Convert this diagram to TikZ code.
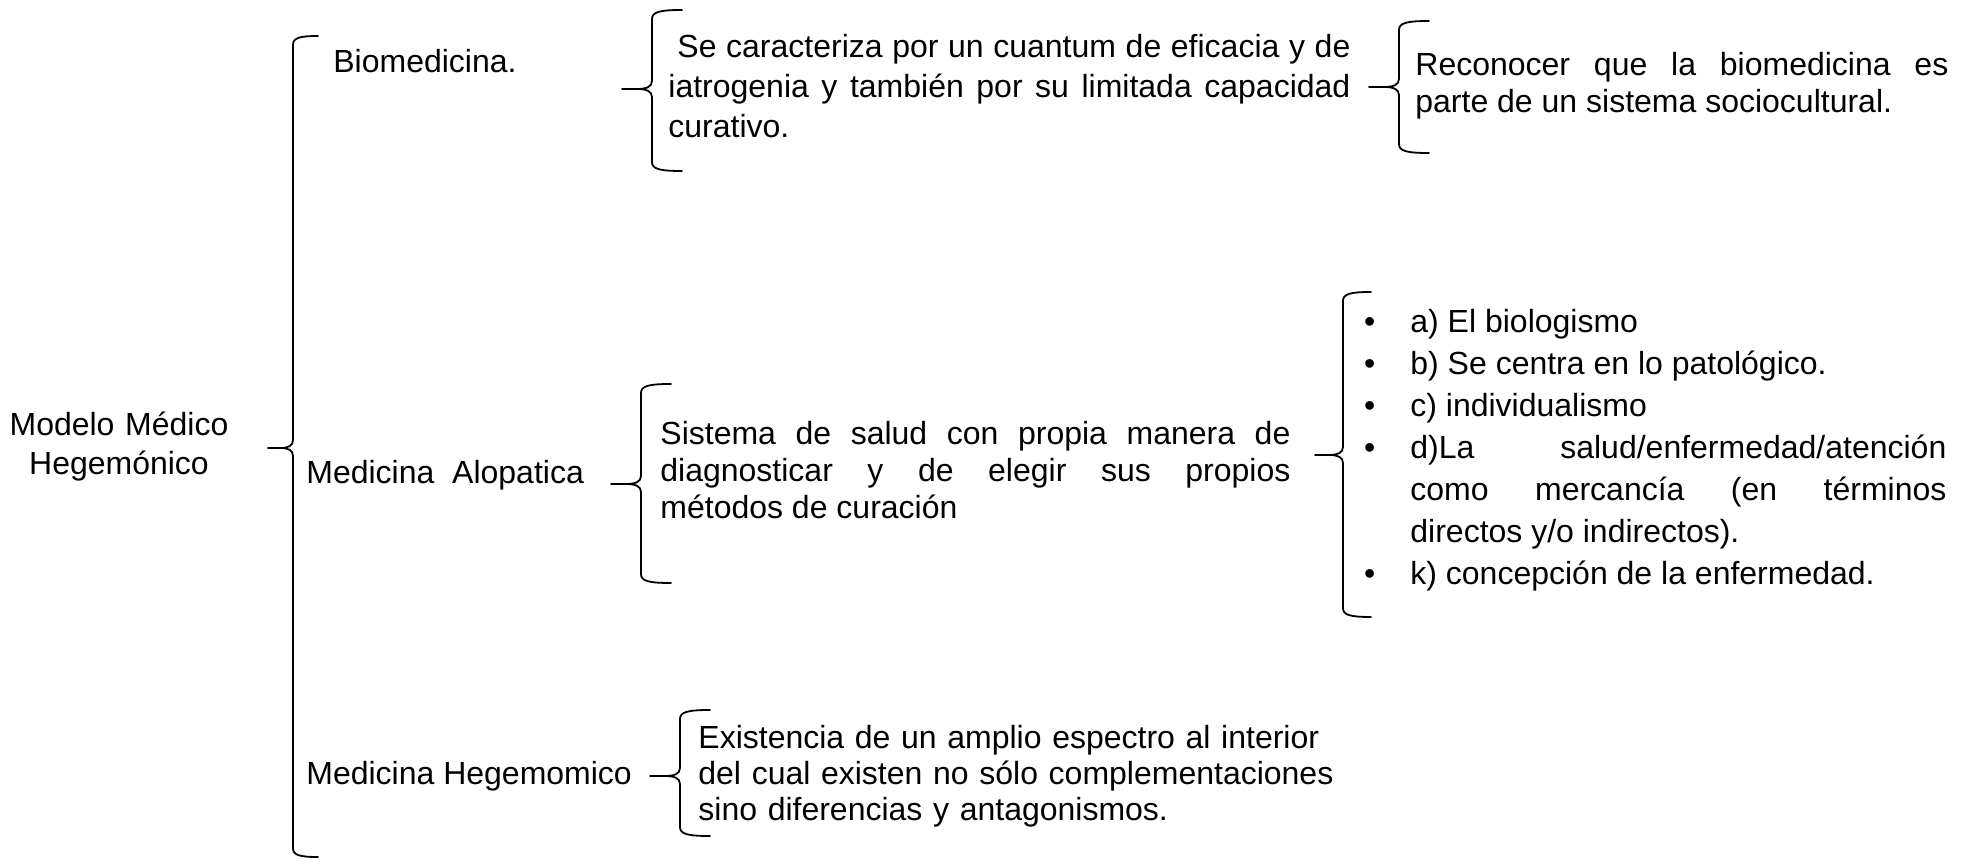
\documentclass[tikz,border=0pt]{standalone}
\usepackage{fontspec}
\setmainfont{Liberation Sans}
\hyphenpenalty=10000
\exhyphenpenalty=10000
\tolerance=9999

\tikzset{
  txt/.style={font=\fontsize{16}{18.5}\selectfont, inner sep=0pt, anchor=base west},
  llavestyle/.style={line width=0.9pt, line cap=round}
}

% llave (brace) opening to the right: [arm]{x}{top}{bottom}{tip y}
\newcommand{\llave}[5][30]{%
  \draw[llavestyle] ({#2+#1},#3) .. controls ({#2+0.25*#1},#3) and (#2,{#3+2}) .. (#2,{#3+9})
    -- (#2,{#5-8}) .. controls (#2,{#5-2}) and ({#2-0.2*#1},#5) .. ({#2-0.5*#1},#5) -- ({#2-#1},#5);
  \draw[llavestyle] ({#2-0.5*#1},#5) .. controls ({#2-0.2*#1},#5) and (#2,{#5+2}) .. (#2,{#5+8})
    -- (#2,{#4-9}) .. controls (#2,{#4-2}) and ({#2+0.25*#1},#4) .. ({#2+#1},#4);
}
% vineta colgada a la izquierda
\newcommand{\bala}{\noindent\llap{\textbullet\hspace{17.5pt}}}

\begin{document}
\begin{tikzpicture}[x=0.5pt,y=-0.5pt]
  \useasboundingbox (0,0) rectangle (1977,860);

  \node[txt, anchor=base, text width=130pt, align=center, font=\fontsize{16}{19.5}\selectfont] (modelo) at (119,436) {Modelo Médico\\Hegemónico};
  \llave[25]{293}{36}{857}{448}

  % primer nivel
  \node[txt] (bio) at (333,73) {Biomedicina.};
  \node[txt] (alo) at (306,484) {Medicina\ \ Alopatica};
  \node[txt] (hege) at (306,784) {Medicina Hegemomico};

  % biomedicina
  \llave{652}{10}{171}{89}
  \node[txt, text width=341pt, align=justify, font=\fontsize{16}{20}\selectfont] (bio-desc) at (668,58)
    {\hspace*{4.5pt}Se caracteriza por un cuantum de eficacia y de\linebreak iatrogenia y también por su limitada capacidad\linebreak curativo.};
  \llave{1399}{21}{153}{87}
  \node[txt, text width=266.5pt, align=justify] (bio-sis) at (1415,76)
    {Reconocer que la biomedicina es\linebreak parte de un sistema sociocultural.};

  % alopatica
  \llave{641}{384}{583}{484}
  \node[txt, text width=315pt, align=justify] (alo-desc) at (660,445)
    {Sistema de salud con propia manera de\linebreak diagnosticar y de elegir sus propios\linebreak métodos de curación};
  \llave[28]{1343}{292}{617}{455}
  \node[txt, text width=268pt, align=justify, font=\fontsize{16}{21}\selectfont] (alo-lista) at (1410,333) {%
    \parindent=0pt
    \bala a) El biologismo\par
    \bala b) Se centra en lo patológico.\par
    \bala c) individualismo\par
    \bala d)La salud/enfermedad/atención\linebreak como mercancía (en términos\linebreak directos y/o indirectos).\par
    \bala k) concepción de la enfermedad.};

  % hegemonico
  \llave{680}{710}{836}{776}
  \node[txt, text width=320pt, align=left, font=\fontsize{16}{18}\selectfont] (hege-desc) at (698,748)
    {Existencia de un amplio espectro al interior\\del cual existen no sólo complementaciones\\sino diferencias y antagonismos.};
\end{tikzpicture}
\end{document}
